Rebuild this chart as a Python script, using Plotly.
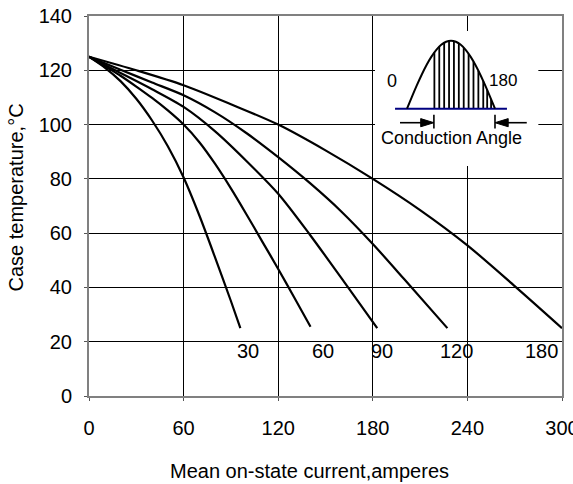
import numpy as np
import plotly.graph_objects as go

# ---------------- data ----------------
x_ticks = [0, 60, 120, 180, 240, 300]
y_ticks = [0, 20, 40, 60, 80, 100, 120, 140]

# case temperature (°C) vs mean on-state current (A), one curve per conduction angle
c30_I = [0, 10, 20, 30, 40, 50, 60, 70, 80, 90, 96]
c30_T = [125, 121, 116, 109.5, 101.5, 92, 80.5, 66.5, 51, 35, 25]

c60_I = [0, 10, 20, 30, 40, 50, 60, 70, 80, 90, 100, 110, 120, 130, 140.5]
c60_T = [125, 121.5, 118, 114, 109.8, 105.2, 100, 93.5, 85.5, 76.5, 66.8, 56.8, 46.8, 36.5, 25.5]

c90_I = [0, 20, 40, 60, 80, 100, 120, 140, 160, 182.8]
c90_T = [125, 119, 113, 106.5, 97.5, 86.5, 74.5, 59.5, 43.5, 25]

c120_I = [0, 20, 40, 60, 80, 100, 120, 140, 160, 180, 200, 227.3]
c120_T = [125, 120.2, 115.5, 110.8, 104.5, 96.8, 88, 78.5, 68, 56, 43, 25]

c180_I = [0, 30, 60, 90, 120, 150, 180, 210, 240, 270, 300]
c180_T = [125, 120, 114.5, 107.5, 100, 90.5, 80, 68.5, 55.5, 40.5, 25]

curve_labels = ["30", "60", "90", "120", "180"]
label_I = [100.8, 148.6, 185.6, 233, 287]
label_T = [16.5, 16.5, 16.5, 16.5, 16.5]

# inset waveform (half sine, degrees vs relative amplitude)
wave_deg = [0, 10, 20, 30, 40, 50, 60, 70, 80, 90, 100, 110, 120, 130, 140, 150, 160, 170, 180]
wave_amp = [0, 0.174, 0.342, 0.5, 0.643, 0.766, 0.866, 0.940, 0.985, 1.0,
            0.985, 0.940, 0.866, 0.766, 0.643, 0.5, 0.342, 0.174, 0]
hatch_deg = [56, 66, 76, 86, 96, 106, 116, 126, 136, 146, 156, 164, 172]
cond_start = 55
cond_end = 180

FONT = "Arial, Liberation Sans, sans-serif"

fig = go.Figure()

for I, T in [(c30_I, c30_T), (c60_I, c60_T), (c90_I, c90_T), (c120_I, c120_T), (c180_I, c180_T)]:
    fig.add_trace(go.Scatter(x=I, y=T, mode="lines",
                             line=dict(color="black", width=2.2, shape="spline", smoothing=0.8),
                             showlegend=False, hoverinfo="skip"))

for t, xi, yi in zip(curve_labels, label_I, label_T):
    fig.add_annotation(x=xi, y=yi, xref="x", yref="y", text=t, showarrow=False,
                       xanchor="center", yanchor="middle",
                       font=dict(family=FONT, size=20, color="black"))

# ---------- inset ----------
fig.add_shape(type="rect", xref="x", yref="y", x0=181.5, x1=285, y0=84.7, y1=134.5,
              fillcolor="white", line=dict(width=0), layer="between")

hx, hy = [], []
for d in hatch_deg:
    h = float(np.interp(d, wave_deg, wave_amp))
    hx += [d, d, None]
    hy += [0, h, None]
fig.add_trace(go.Scatter(x=hx, y=hy, mode="lines", xaxis="x2", yaxis="y2",
                         line=dict(color="black", width=1.8), showlegend=False, hoverinfo="skip"))
fig.add_trace(go.Scatter(x=[-24.5, 204.5], y=[0, 0], mode="lines", xaxis="x2", yaxis="y2",
                         line=dict(color="#000080", width=2), showlegend=False, hoverinfo="skip"))
fig.add_trace(go.Scatter(x=wave_deg, y=wave_amp, mode="lines", xaxis="x2", yaxis="y2",
                         line=dict(color="black", width=2, shape="spline"), showlegend=False,
                         hoverinfo="skip"))
ay = -0.206
bx = [cond_start, cond_start, None, cond_end, cond_end, None, -14.3, cond_start - 20, None, 245, cond_end + 20]
by = [-0.09, -0.29, None, -0.09, -0.29, None, ay, ay, None, ay, ay]
fig.add_trace(go.Scatter(x=bx, y=by, mode="lines", xaxis="x2", yaxis="y2",
                         line=dict(color="black", width=1.6), showlegend=False, hoverinfo="skip"))
fig.add_trace(go.Scatter(x=[cond_start, cond_start - 27, cond_start - 27, cond_start],
                         y=[ay, ay + 0.06, ay - 0.06, ay], mode="lines", fill="toself",
                         fillcolor="black", xaxis="x2", yaxis="y2",
                         line=dict(color="black", width=1), showlegend=False, hoverinfo="skip"))
fig.add_trace(go.Scatter(x=[cond_end, cond_end + 27, cond_end + 27, cond_end],
                         y=[ay, ay + 0.06, ay - 0.06, ay], mode="lines", fill="toself",
                         fillcolor="black", xaxis="x2", yaxis="y2",
                         line=dict(color="black", width=1), showlegend=False, hoverinfo="skip"))

fig.add_annotation(x=-30.7, y=0.41, xref="x2", yref="y2", text="0", showarrow=False,
                   xanchor="center", yanchor="middle",
                   font=dict(family=FONT, size=18, color="black"))
fig.add_annotation(x=196, y=0.41, xref="x2", yref="y2", text="180", showarrow=False,
                   xanchor="center", yanchor="middle",
                   font=dict(family=FONT, size=17, color="black"))
fig.add_annotation(x=92, y=-0.43, xref="x2", yref="y2", text="Conduction Angle", showarrow=False,
                   xanchor="center", yanchor="middle",
                   font=dict(family=FONT, size=18, color="black"))

W, H = 573, 484
L, R, T, B = 89, 11, 16, 88
pw, ph = W - L - R, H - T - B


def py_to_paper(py):
    return (H - B - py) / ph


def px_to_paper(px):
    return (px - L) / pw


fig.add_annotation(xref="paper", yref="paper", x=px_to_paper(309), y=py_to_paper(471),
                   text="Mean on-state current,amperes", showarrow=False,
                   xanchor="center", yanchor="middle",
                   font=dict(family=FONT, size=20, color="black"))
fig.add_annotation(xref="paper", yref="paper", x=px_to_paper(15), y=py_to_paper(197.5),
                   text="Case temperature,°C", showarrow=False, textangle=-90,
                   xanchor="center", yanchor="middle",
                   font=dict(family=FONT, size=20, color="black"))

axis_common = dict(showgrid=True, gridcolor="black", gridwidth=1, zeroline=False,
                   showline=True, mirror=True, linecolor="#808080", linewidth=2,
                   ticks="outside", ticklen=3, tickcolor="#555555",
                   ticklabeloverflow="allow",
                   tickfont=dict(family=FONT, size=20, color="black"))

fig.update_layout(
    width=W, height=H,
    margin=dict(l=L, r=R, t=T, b=B, pad=0, autoexpand=False),
    plot_bgcolor="white", paper_bgcolor="white",
    showlegend=False,
    xaxis=dict(range=[0, 300], tickvals=x_ticks, ticklabelstandoff=10, automargin=False, **axis_common),
    yaxis=dict(range=[0, 140], tickvals=y_ticks, ticklabelstandoff=8, automargin=False, **axis_common),
    xaxis2=dict(domain=[px_to_paper(375), px_to_paper(538)], range=[-65.5, 268], visible=False,
                anchor="y2", fixedrange=True),
    yaxis2=dict(domain=[py_to_paper(166), py_to_paper(31)], range=[-0.843, 1.143], visible=False,
                anchor="x2", fixedrange=True),
)

fig.write_html("out.html", config={"displayModeBar": False},
               post_script="document.body.style.margin='0px';document.body.style.overflow='hidden';")
